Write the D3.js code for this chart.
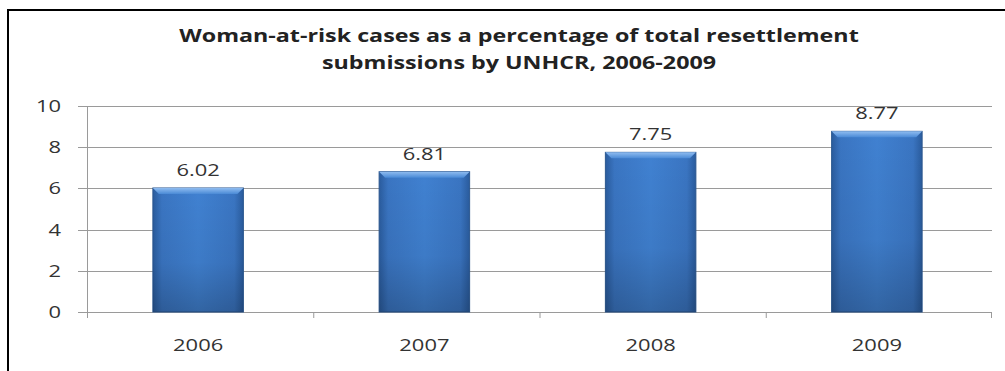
<!DOCTYPE html>
<html><head><meta charset="utf-8">
<script src="https://cdn.jsdelivr.net/npm/d3@7"></script>
<style>
html,body{margin:0;padding:0;background:#fff;overflow:hidden;}
svg{display:block;}
</style></head>
<body>
<script>
const categories = ["2006", "2007", "2008", "2009"];
const values = [6.02, 6.81, 7.75, 8.77];
const yTicks = [0, 2, 4, 6, 8, 10];
const titleLines = ["Woman-at-risk cases as a percentage of total resettlement", "submissions by UNHCR, 2006-2009"];

const W = 1005, H = 371;
const m = {left: 87, right: 13, top: 106, bottom: 59};
const SX = 1.33; // horizontal stretch of the text, as in the reference
const svg = d3.select("body").append("svg").attr("width", W).attr("height", H);
const font = "'Open Sans', 'DejaVu Sans', sans-serif";

// frame (only left and top edges are inside the picture)
svg.append("path").attr("d", `M8,${H}V10H${W}`)
  .attr("fill", "none").attr("stroke", "#000").attr("stroke-width", 2);

const x = d3.scaleBand().domain(categories).range([m.left, W - m.right]).padding(0);
const y = d3.scaleLinear().domain([0, 10]).range([H - m.bottom, m.top]);

function stretched(sel, fx, fy) {
  return sel.attr("transform", (d, i) => `translate(${fx(d, i)},${fy(d, i)}) scale(${SX},1)`);
}

// defs
const defs = svg.append("defs");
const gh = defs.append("linearGradient").attr("id", "gh").attr("x1", 0).attr("x2", 1).attr("y1", 0).attr("y2", 0);
[[0, "#2a5c9e"], [0.1, "#3a75c2"], [0.5, "#4081d1"], [0.9, "#3a75c2"], [1, "#2a5c9e"]]
  .forEach(([o, c]) => gh.append("stop").attr("offset", o).attr("stop-color", c));
const gv = defs.append("linearGradient").attr("id", "gv").attr("x1", 0).attr("x2", 0).attr("y1", 0).attr("y2", 1);
[[0, "#000", 0], [0.6, "#000", 0.05], [1, "#000", 0.22]]
  .forEach(([o, c, a]) => gv.append("stop").attr("offset", o).attr("stop-color", c).attr("stop-opacity", a));
const gt = defs.append("linearGradient").attr("id", "gt").attr("x1", 0).attr("x2", 0).attr("y1", 0).attr("y2", 1);
[[0, "#8fbcf0"], [1, "#4a8ad6"]].forEach(([o, c]) => gt.append("stop").attr("offset", o).attr("stop-color", c));

// gridlines
svg.append("g").selectAll("line").data(yTicks).join("line")
  .attr("x1", m.left - 9).attr("x2", W - m.right)
  .attr("y1", d => Math.round(y(d)) + 0.5).attr("y2", d => Math.round(y(d)) + 0.5)
  .attr("stroke", "#9a9a9a").attr("stroke-width", 1);

// y axis line
svg.append("line").attr("x1", m.left + 0.5).attr("x2", m.left + 0.5)
  .attr("y1", y(10)).attr("y2", y(0) + 6).attr("stroke", "#9a9a9a");

// category ticks
svg.append("g").selectAll("line").data(categories.slice(1).concat(["end"])).join("line")
  .attr("x1", d => d === "end" ? W - m.right - 0.5 : x(d) + 0.5)
  .attr("x2", d => d === "end" ? W - m.right - 0.5 : x(d) + 0.5)
  .attr("y1", y(0)).attr("y2", y(0) + 6).attr("stroke", "#9a9a9a");

// y tick labels
stretched(svg.append("g").selectAll("text").data(yTicks).join("text"), () => 61, d => y(d))
  .attr("dy", "0.36em")
  .attr("text-anchor", "end").attr("font-family", font).attr("font-size", 16.5)
  .attr("fill", "#333").text(d => d);

// x labels
stretched(svg.append("g").selectAll("text").data(categories).join("text"),
    d => x(d) + x.bandwidth() / 2 - 2, () => 351)
  .attr("text-anchor", "middle").attr("font-family", font).attr("font-size", 16.5)
  .attr("fill", "#333").text(d => d);

// bars
const bw = x.bandwidth() * 0.4;
const bars = svg.append("g").selectAll("g").data(categories.map((c, i) => ({c, v: values[i]}))).join("g");
bars.append("rect")
  .attr("x", d => x(d.c) + x.bandwidth() / 2 - bw / 2 - 2).attr("width", bw)
  .attr("y", d => y(d.v)).attr("height", d => y(0) - y(d.v))
  .attr("fill", "url(#gh)").attr("stroke", "#2b578f").attr("stroke-width", 1);
bars.append("rect")
  .attr("x", d => x(d.c) + x.bandwidth() / 2 - bw / 2 - 2).attr("width", bw)
  .attr("y", d => y(d.v)).attr("height", d => y(0) - y(d.v))
  .attr("fill", "url(#gv)");
bars.append("path")
  .attr("d", d => {
    const x0 = x(d.c) + x.bandwidth() / 2 - bw / 2 - 2, x1 = x0 + bw, t = y(d.v);
    return `M${x0},${t}L${x1},${t}L${x1 - 6},${t + 6}L${x0 + 6},${t + 6}Z`;
  })
  .attr("fill", "url(#gt)");

// value labels
stretched(bars.append("text"), d => x(d.c) + x.bandwidth() / 2 - 2, d => y(d.v) - 12)
  .attr("text-anchor", "middle").attr("font-family", font).attr("font-size", 16.5)
  .attr("fill", "#333").text(d => d.v.toFixed(2));

// title
stretched(svg.append("g").selectAll("text").data(titleLines).join("text"),
    () => 519, (d, i) => 42 + i * 27)
  .attr("text-anchor", "middle").attr("font-family", font).attr("font-weight", "bold")
  .attr("font-size", 17.5).attr("fill", "#222").text(d => d);
</script>
</body></html>
